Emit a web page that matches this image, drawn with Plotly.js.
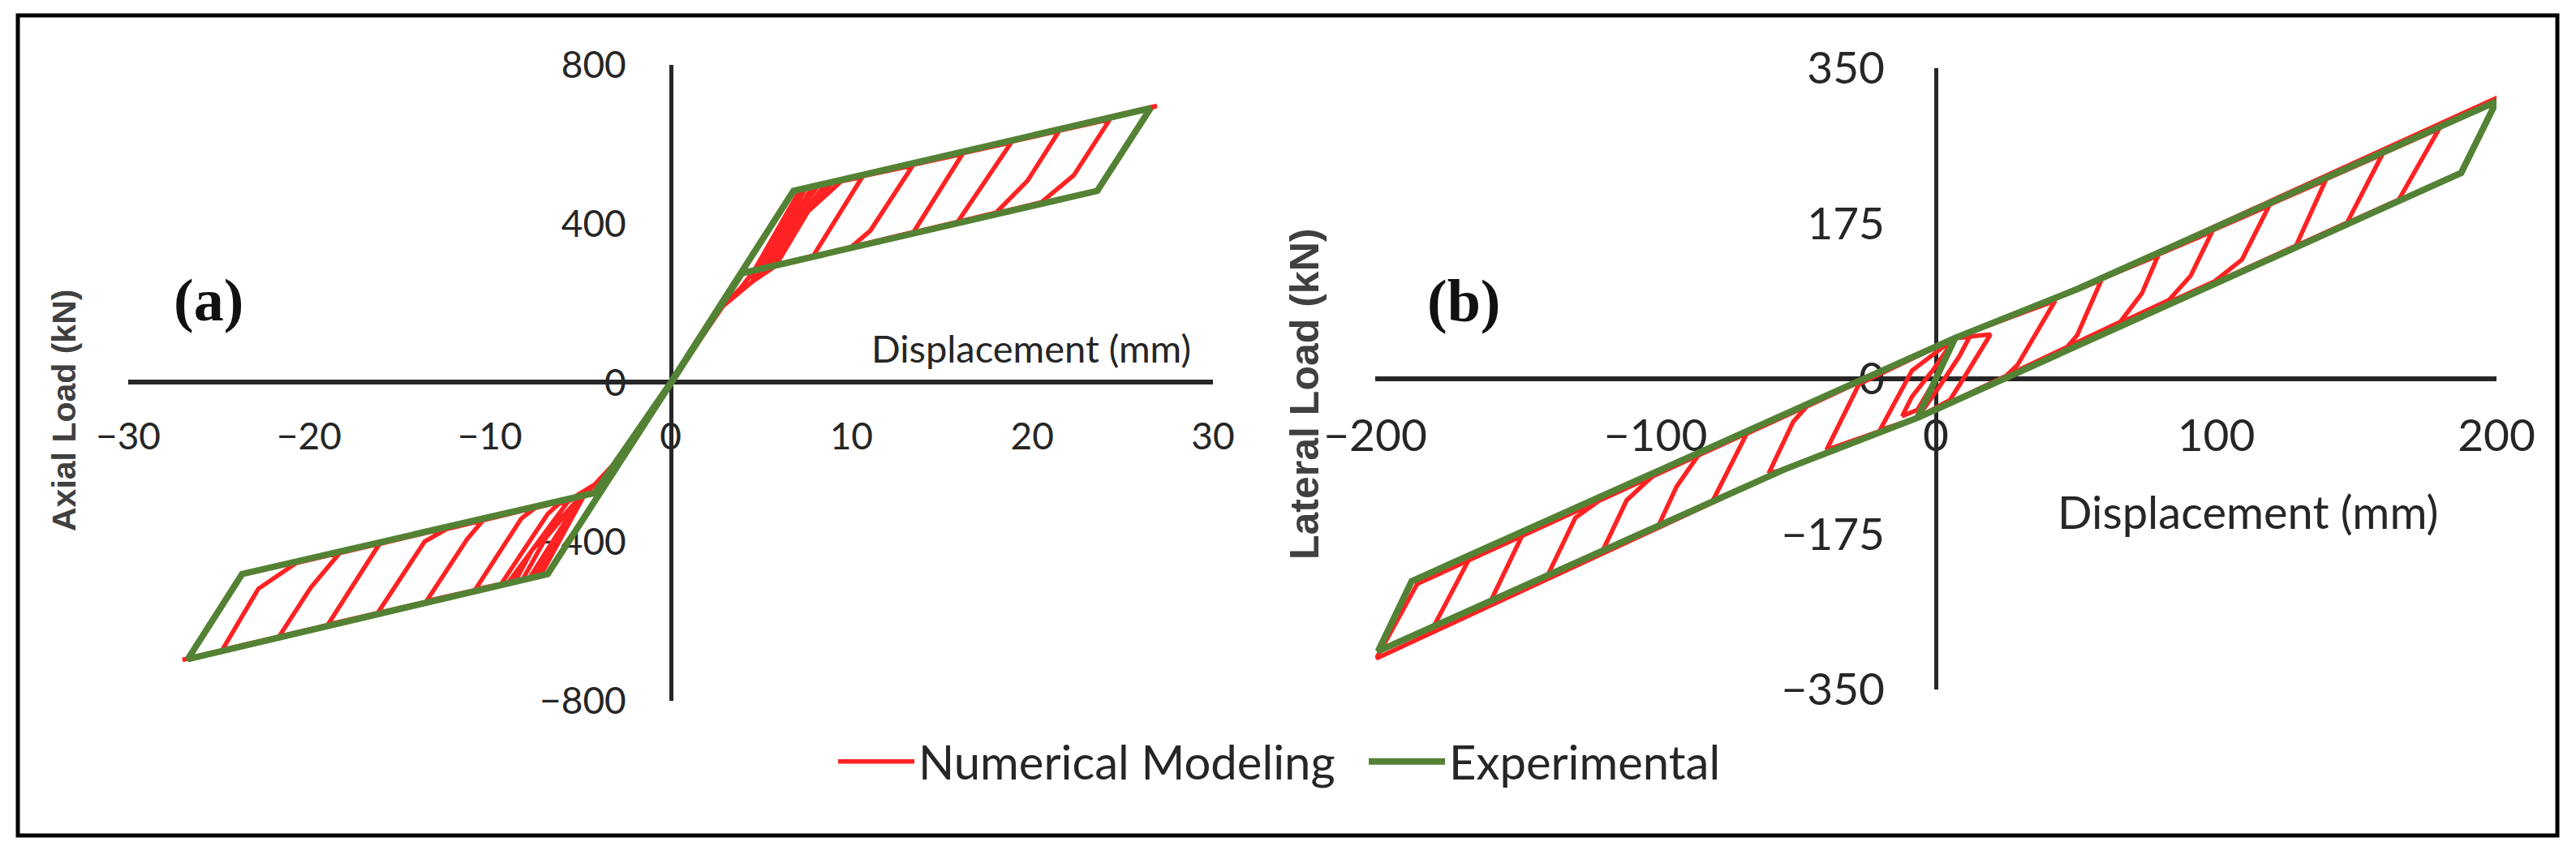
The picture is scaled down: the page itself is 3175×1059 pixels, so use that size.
<!DOCTYPE html>
<html><head><meta charset="utf-8">
<script src="https://cdn.plot.ly/plotly-3.0.1.min.js"></script>
<style>html,body{margin:0;padding:0;background:#fff;} #chart{width:3175px;height:1059px;}</style>
</head><body><div id="chart"></div>
<script>
// ---------- Panel (a): axial load vs displacement ----------
const axialXTicks = [-30, -20, -10, 0, 10, 20, 30];
const axialYTicks = [-800, -400, 0, 400, 800];

const numAxialX = [0,
  6.8,7.2,4.6,3.9,2.9,0, -6.8,-7.2,-4.8,-4.2,-2.4,0,
  6.8,7.5,4.8,4.5,2.9,0, -6.8,-7.5,-4.9,-4.2,-2.4,0,
  6.8,7.9,5.0,4.5,2.9,0, -6.8,-7.8,-5.0,-4.2,-2.4,0,
  6.8,8.2,6.2,5.1,4.5,2.9,0, -6.8,-8.2,-6.9,-5.1,-4.2,-2.4,0,
  6.8,8.6,6.6,5.3,4.5,2.9,0, -6.8,-8.6,-7.65,-5.25,-4.2,-2.4,0,
  6.8,9.0,7.0,5.6,4.5,2.9,0, -6.8,-9.0,-7.3,-5.7,-4.2,-2.4,0,
  6.8,9.55,7.6,5.8,4.5,2.9,0, -6.8,-9.4,-6.8,-6.2,-5.5,-4.2,-2.4,0,
  6.8,10.6,7.9,5.5,4.5,2.9,0, -6.8,-10.8,-8.25,-7.5,-5.5,-4.2,-2.4,0,
  6.8,13.4,11.05,10.0,5.5,4.5,2.9,0, -6.8,-13.5,-11.25,-10.35,-5.5,-4.2,-2.4,0,
  6.8,16.15,13.45,5.5,4.5,2.9,0, -6.8,-16.2,-13.6,-12.4,-5.5,-4.2,-2.4,0,
  6.8,18.85,15.85,5.5,4.5,2.9,0, -6.8,-18.95,-16.1,-5.5,-4.2,-2.4,0,
  6.8,21.5,19.75,18.0,5.5,4.5,2.9,0, -6.8,-21.65,-19.9,-18.3,-5.5,-4.2,-2.4,0,
  6.8,24.3,22.3,20.5,5.5,4.5,2.9,0, -6.8,-24.8,-22.8,-20.7,-5.5,-4.2,-2.4,0,
  6.8,26.9,26.55,23.6,5.5,4.5,2.9,0, -6.8,-27.0];
const numAxialY = [0,
  483,488,281,240,193,0, -481,-485,-285,-256,-168,0,
  483,491,283,254,193,0, -481,-488,-287,-256,-168,0,
  483,496,286,254,193,0, -481,-491,-290,-256,-168,0,
  483,499,370,287,254,193,0, -481,-496,-390,-293,-256,-168,0,
  483,503,380,289,254,193,0, -481,-500,-420,-300,-256,-168,0,
  483,507,405,292,254,193,0, -481,-504,-400,-300,-256,-168,0,
  483,512,431,294,254,193,0, -481,-508,-330,-305,-292,-256,-168,0,
  483,518,320,292,254,193,0, -481,-520,-341,-315,-292,-256,-168,0,
  483,547,383,342,292,254,193,0, -481,-549,-393,-345,-292,-256,-168,0,
  483,576,380,292,254,193,0, -481,-579,-399,-368,-292,-256,-168,0,
  483,605,403,292,254,193,0, -481,-608,-405,-292,-256,-168,0,
  483,634,509,428,292,254,193,0, -481,-638,-515,-428,-292,-256,-168,0,
  483,663,522,454,292,254,193,0, -481,-672,-518,-453,-292,-256,-168,0,
  483,697,691,483,292,254,193,0, -481,-697];

const expAxialX = [0, 6.8, 26.55, 23.6, 3.95, -6.8, -26.7, -23.7, -4.2, 0];
const expAxialY = [0, 483, 691, 483, 276, -481, -695, -481, -277, 0];

// ---------- Panel (b): lateral load vs displacement ----------
const latXTicks = [-200, -100, 0, 100, 200];
const latYTicks = [-350, -175, 0, 175, 350];

const numLatX = [0,-6.6,-12,-8.5,-1,6.9,12,8.5,1.2,-6.6,
  -20,-14.3,-8.5,6.9,19.5,9.8,5,-6.6,
  -39,-27.4,6.9,42.6,29.1,24,-6.6,
  -54,-59.6,-50.9,-46,6.9,50.4,59,50.4,45,-6.6,
  -54,-79.5,-67.5,6.9,50.4,79.3,73.5,65.8,-6.6,
  -54,-99.2,-92.5,-84.7,6.9,50.4,98.6,90.9,83.1,-6.6,
  -54,-119,-110.3,-101.1,6.9,50.4,118.9,109.2,99.5,-6.6,
  -54,-138.8,-128.6,-118.6,6.9,50.4,139.1,128.5,-6.6,
  -54,-159.1,-147.5,6.9,50.4,159.3,146.7,-6.6,
  -54,-179.3,-166.3,6.9,50.4,179.6,165.2,-6.6,
  -54,-199.6,-185,6.9,50.4,200.4];
const numLatY = [0,-35,-42,-20,10,46,47,26,-9,-44,
  -58,-24,9.4,46,50,0,-24,-44,
  -80,-6,46,88,15.5,0,-44,
  -102,-106.3,-48.4,-31,46,101,111,49,29,-44,
  -102,-136.8,-62,46,101,139,96.2,64.2,-44,
  -102,-167.2,-121.5,-86,46,101,166,116,88.6,-44,
  -102,-194.6,-136.8,-110,46,101,195,134.3,110,-44,
  -102,-223.6,-156.5,-134,46,101,224,150,-44,
  -102,-252.5,-176,46,101,253,176,-44,
  -102,-280,-202,46,101,282,202,-44,
  -102,-315,-231,46,101,317];

const expLatX = [-6.6, 6.9, 50.4, 200, 187.4, -6.6, -54, -199, -187, 6.9];
const expLatY = [-44, 46, 101, 312.5, 232, -44, -102, -307, -228, 46];

// ---------- styling ----------
const RED = '#ff2222';
const GREEN = '#548235';
const INK = '#262626';
const tickFontA = {family: 'Lato, "Open Sans", sans-serif', size: 46, color: INK};
const tickFontB = {family: 'Lato, "Open Sans", sans-serif', size: 55, color: INK};

const traces = [
  {x: numAxialX, y: numAxialY, xaxis: 'x', yaxis: 'y', type: 'scatter', mode: 'lines',
   name: 'Numerical Modeling', legendgroup: 'num', line: {color: RED, width: 5.5}},
  {x: numLatX, y: numLatY, xaxis: 'x2', yaxis: 'y2', type: 'scatter', mode: 'lines',
   name: 'Numerical Modeling', legendgroup: 'num', showlegend: false, line: {color: RED, width: 5.5}},
  {x: expAxialX, y: expAxialY, xaxis: 'x', yaxis: 'y', type: 'scatter', mode: 'lines',
   name: 'Experimental', legendgroup: 'exp', line: {color: GREEN, width: 8}},
  {x: expLatX, y: expLatY, xaxis: 'x2', yaxis: 'y2', type: 'scatter', mode: 'lines',
   name: 'Experimental', legendgroup: 'exp', showlegend: false, line: {color: GREEN, width: 8}}
];

const W = 3175, H = 1059;
const px = v => v / W;
const py = v => 1 - v / H;

function axisBase(extra) {
  return Object.assign({
    showgrid: false, zeroline: false, showline: true, linecolor: INK,
    ticks: '', anchor: 'free', layer: 'below traces', automargin: false, fixedrange: true
  }, extra);
}

const layout = {
  width: W, height: H,
  margin: {l: 0, r: 0, t: 0, b: 0},
  paper_bgcolor: '#ffffff', plot_bgcolor: 'rgba(0,0,0,0)',
  font: {family: 'Lato, sans-serif', color: INK},
  xaxis: axisBase({domain: [px(158), px(1495)], range: [-30, 30], position: py(471),
    linewidth: 6, tickvals: axialXTicks, tickfont: tickFontA, ticklabelstandoff: 25}),
  yaxis: axisBase({domain: [py(864), py(80)], range: [-800, 800], position: px(827),
    linewidth: 5, tickvals: axialYTicks, tickfont: tickFontA, ticklabelstandoff: 44}),
  xaxis2: axisBase({domain: [px(1695), px(3077)], range: [-200, 200], position: py(467),
    linewidth: 6, tickvals: latXTicks, tickfont: tickFontB, ticklabelstandoff: 20}),
  yaxis2: axisBase({domain: [py(850), py(84)], range: [-350, 350], position: px(2386),
    linewidth: 5, tickvals: latYTicks, tickfont: tickFontB, ticklabelstandoff: 50}),
  showlegend: true,
  legend: {orientation: 'h', x: px(1028), xanchor: 'left', y: py(939), yanchor: 'middle',
    bgcolor: 'rgba(0,0,0,0)', font: {family: 'Lato, sans-serif', size: 58, color: INK},
    itemwidth: 94, entrywidth: 545, entrywidthmode: 'pixels'},
  annotations: [
    {text: '(a)', x: px(257), y: py(370), xref: 'paper', yref: 'paper', showarrow: false,
     xanchor: 'center', yanchor: 'middle',
     font: {family: '"Liberation Serif", "DejaVu Serif", serif', size: 74, color: '#111', weight: 'bold'}},
    {text: '(b)', x: px(1804), y: py(371), xref: 'paper', yref: 'paper', showarrow: false,
     xanchor: 'center', yanchor: 'middle',
     font: {family: '"Liberation Serif", "DejaVu Serif", serif', size: 74, color: '#111', weight: 'bold'}},
    {text: 'Displacement (mm)', x: px(1271), y: py(429), xref: 'paper', yref: 'paper', showarrow: false,
     xanchor: 'center', yanchor: 'middle', font: {family: 'Lato, sans-serif', size: 47, color: INK}},
    {text: 'Displacement (mm)', x: px(2770), y: py(630), xref: 'paper', yref: 'paper', showarrow: false,
     xanchor: 'center', yanchor: 'middle', font: {family: 'Lato, sans-serif', size: 56, color: INK}},
    {text: 'Axial Load (kN)', x: px(79), y: py(506), xref: 'paper', yref: 'paper', showarrow: false,
     textangle: -90, xanchor: 'center', yanchor: 'middle',
     font: {family: '"Liberation Sans", Arial, sans-serif', size: 41, color: '#404040', weight: 'bold'}},
    {text: 'Lateral Load (kN)', x: px(1608), y: py(486), xref: 'paper', yref: 'paper', showarrow: false,
     textangle: -90, xanchor: 'center', yanchor: 'middle',
     font: {family: '"Liberation Sans", Arial, sans-serif', size: 50, color: '#404040', weight: 'bold'}}
  ],
  shapes: [
    {type: 'rect', xref: 'paper', yref: 'paper', x0: px(22), x1: px(3152), y0: py(1030), y1: py(19),
     line: {color: '#000000', width: 5}, fillcolor: 'rgba(0,0,0,0)'}
  ]
};

Plotly.newPlot('chart', traces, layout, {displayModeBar: false, staticPlot: true});
</script>
</body></html>
